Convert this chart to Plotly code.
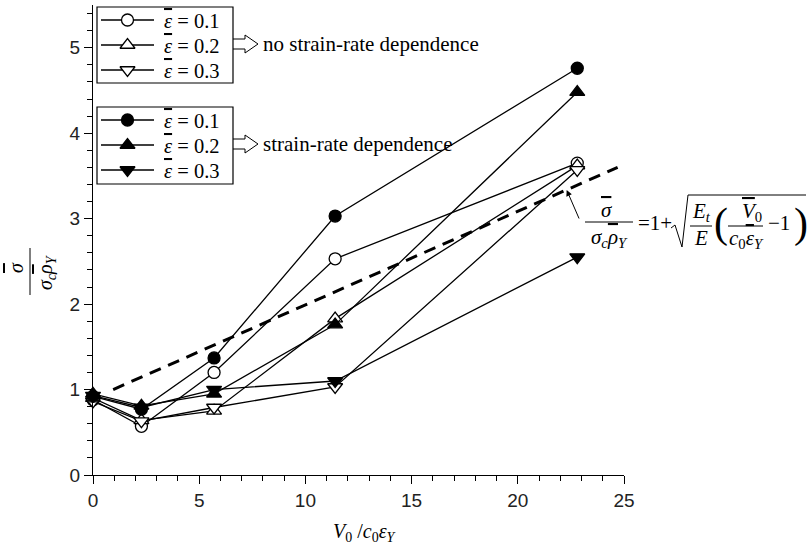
import plotly.graph_objects as go

# Non-dimensional impact velocity V0 / (c0 * eps_Y)
velocity = [0, 2.28, 5.7, 11.4, 22.8]

# Normalised stress, no strain-rate dependence
no_rate_01 = [0.88, 0.57, 1.20, 2.53, 3.65]
no_rate_02 = [0.90, 0.64, 0.75, 1.83, 3.62]
no_rate_03 = [0.86, 0.63, 0.79, 1.03, 3.57]

# Normalised stress, with strain-rate dependence
rate_01 = [0.92, 0.77, 1.37, 3.03, 4.76]
rate_02 = [0.95, 0.81, 0.95, 1.76, 4.48]
rate_03 = [0.93, 0.79, 1.00, 1.10, 2.55]

# Analytical estimate (dashed line)
theory_x = [0.95, 24.7]
theory_y = [1.0, 3.6]

strain_labels = ["0.1", "0.2", "0.3"]

W, H = 809, 547
L, R, T, B = 93, 624, 5, 475  # plot area in pixels

SERIF = "Liberation Serif, Times New Roman, serif"
SANS = "Liberation Sans, Arial, sans-serif"


def px_x(p):
    return (p - L) / (R - L)


def px_y(p):
    return (B - p) / (B - T)


def bar(s):
    return f'<span style="text-decoration:overline">{s}</span>'


EPS_BAR = f"<i>{bar(chr(0x3b5))}</i>"
SIGMA = "\u03c3"
RHO = "\u03c1"

fig = go.Figure()

open_series = [no_rate_01, no_rate_02, no_rate_03]
filled_series = [rate_01, rate_02, rate_03]
symbols = ["circle", "triangle-up", "triangle-down"]
sizes = [12, 13, 13]


def marker_style(sym, sz, fill):
    return dict(symbol=sym, size=sz, color=fill,
                line=dict(color="black", width=1.3))


for group, fill in [(open_series, "white"), (filled_series, "black")]:
    for vals, sym, sz in zip(group, symbols, sizes):
        fig.add_trace(go.Scatter(
            x=velocity, y=vals, mode="lines+markers", showlegend=False,
            line=dict(color="black", width=1.3),
            marker=marker_style(sym, sz, fill), cliponaxis=False,
        ))

fig.add_trace(go.Scatter(
    x=theory_x, y=theory_y, mode="lines", showlegend=False,
    line=dict(color="black", width=3, dash="12px,8px"),
))

annotations = []
shapes = []


def text(px, py, s, size=19, anchor="center", angle=0):
    annotations.append(dict(
        xref="paper", yref="paper", x=px_x(px), y=px_y(py), text=s,
        showarrow=False, xanchor=anchor, yanchor="middle", textangle=angle,
        font=dict(family=SERIF, size=size, color="black"),
    ))


def segment(x0, y0, x1, y1, width=1.0, layer="above"):
    shapes.append(dict(type="line", xref="paper", yref="paper", layer=layer,
                       x0=px_x(x0), y0=px_y(y0), x1=px_x(x1), y1=px_y(y1),
                       line=dict(color="black", width=width)))


def path(points, width=1.0):
    d = "M " + " L ".join(f"{px_x(a)},{px_y(b)}" for a, b in points)
    shapes.append(dict(type="path", xref="paper", yref="paper", path=d,
                       line=dict(color="black", width=width)))


# Two boxed legends drawn on a hidden pixel-space overlay axis
legend_boxes = [(7, 83, [20, 45, 70], "white"), (107, 184, [120, 145, 170], "black")]
for top, bottom, rows, fill in legend_boxes:
    shapes.append(dict(type="rect", xref="paper", yref="paper",
                       x0=px_x(97), x1=px_x(233), y0=px_y(top), y1=px_y(bottom),
                       line=dict(color="black", width=1.2)))
    for ry, sym, sz, lab in zip(rows, symbols, sizes, strain_labels):
        segment(101, ry, 154, ry, width=1.3, layer="below")
        fig.add_trace(go.Scatter(
            x=[127.5], y=[ry], xaxis="x2", yaxis="y2", mode="markers",
            showlegend=False, marker=marker_style(sym, sz, fill),
            hoverinfo="skip",
        ))
        text(162, ry + 1, f"{EPS_BAR} = {lab}", size=20.5, anchor="left")

axis_common = dict(
    showline=True, linecolor="black", linewidth=1.3,
    ticks="outside", ticklen=8, tickwidth=1.3, tickcolor="black",
    showgrid=False, zeroline=False,
    tickfont=dict(family=SANS, size=19, color="#222"),
)

fig.update_layout(
    width=W, height=H,
    margin=dict(l=L, r=W - R, t=T, b=H - B),
    paper_bgcolor="white", plot_bgcolor="white",
    showlegend=False,
    xaxis=dict(range=[0, 25], tick0=0, dtick=5,
               minor=dict(ticks="outside", ticklen=5, dtick=1,
                          tickwidth=1.3, tickcolor="black"),
               **axis_common),
    yaxis=dict(range=[0, 5.5], tick0=0, dtick=1,
               minor=dict(ticks="outside", ticklen=5, dtick=0.2,
                          tickwidth=1.3, tickcolor="black"),
               **axis_common),
    xaxis2=dict(range=[L, R], overlaying="x", visible=False, anchor="y2"),
    yaxis2=dict(range=[B, T], overlaying="y", visible=False, anchor="x2"),
)

# Axis titles
text(365, 532, "<i>V</i><sub>0</sub> /<i>c</i><sub>0</sub><i>\u03b5</i><sub><i>Y</i></sub>", size=20)
text(16, 268, f"<i>{bar(SIGMA)}</i>", size=20, angle=-90)
segment(30, 248, 30, 295)
text(46, 272, f"<i>{SIGMA}</i><sub><i>c</i></sub><i>{bar(RHO)}</i><sub><i>Y</i></sub>",
     size=20, angle=-90)

# Hollow arrows from the legends to their descriptions
for yc, label in [(44, "no strain-rate dependence"), (144, "strain-rate dependence")]:
    path([(233, yc - 5), (245, yc - 5), (245, yc - 9), (258, yc),
          (245, yc + 9), (245, yc + 5), (233, yc + 5)])
    text(261, yc, label, size=21, anchor="left")

# Equation for the dashed line
text(607, 210, f"<i>{bar(SIGMA)}</i>", size=21)
segment(585, 222, 633, 222)
text(609, 238, f"<i>{SIGMA}</i><sub><i>c</i></sub><i>{bar(RHO)}</i><sub><i>Y</i></sub>", size=21)
text(655, 223, "=1+", size=21)
path([(671, 228), (675, 225), (682, 247), (688, 195), (806, 195)])
text(701, 212, "<i>E</i><sub><i>t</i></sub>", size=21)
segment(690, 226, 712, 226)
text(701, 238, "<i>E</i>", size=21)
text(721, 223, "(", size=42)
text(752, 212, f"<i>{bar('V')}</i><sub>0</sub>", size=21)
segment(728, 226, 763, 226)
text(746, 239, f"<i>c</i><sub>0</sub>{EPS_BAR}<sub><i>Y</i></sub>", size=21)
text(779, 223, "\u22121", size=21)
text(801, 223, ")", size=42)

annotations.append(dict(
    xref="x", yref="y", x=(566.7 - L) / (R - L) * 25, y=(B - 190) / (B - T) * 5.5,
    ax=13, ay=30, axref="pixel", ayref="pixel", text="", showarrow=True,
    arrowhead=2, arrowsize=1.2, arrowwidth=1, arrowcolor="black", standoff=0,
))

fig.update_layout(annotations=annotations, shapes=shapes)

fig.write_html("out.html")
